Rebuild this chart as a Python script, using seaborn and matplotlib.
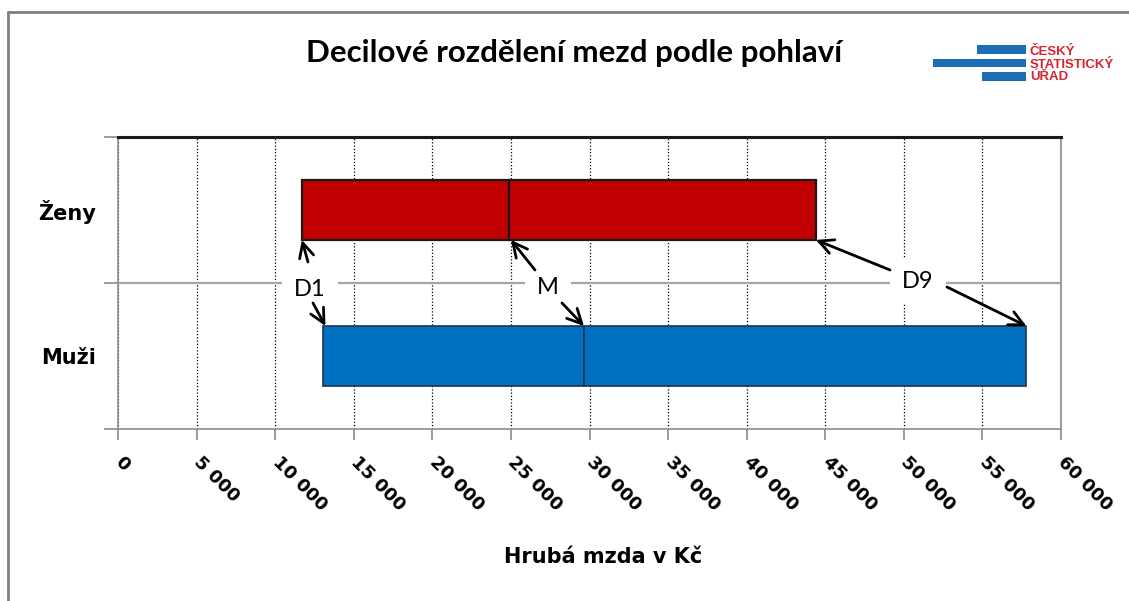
import matplotlib
matplotlib.use('Agg')
import matplotlib.pyplot as plt
import seaborn as sns
from matplotlib.lines import Line2D
from matplotlib.patches import Rectangle

# ---------------- data ----------------
categories = ['Ženy', 'Muži']
d1 = [11700, 13050]
median = [24900, 29650]
d9 = [44400, 57800]
bar_colors = ['#C00000', '#0070C0']
edge_colors = ['#1a1a1a', '#1f3350']
tick_values = [0, 5000, 10000, 15000, 20000, 25000, 30000, 35000, 40000, 45000, 50000, 55000, 60000]
tick_labels = ['0', '5 000', '10 000', '15 000', '20 000', '25 000', '30 000',
               '35 000', '40 000', '45 000', '50 000', '55 000', '60 000']
title = 'Decilové rozdělení mezd podle pohlaví'
xlabel = 'Hrubá mzda v Kč'
logo_lines = ['ČESKÝ', 'STATISTICKÝ', 'ÚŘAD']

# ---------------- style ----------------
sns.set_theme(style='white')
plt.rcParams['font.family'] = ['DejaVu Sans']
plt.rcParams['text.color'] = 'black'
plt.rcParams['xtick.labelcolor'] = 'black'
plt.rcParams['ytick.labelcolor'] = 'black'
BOLD = ['DejaVu Sans']

W, H = 1129, 601
fig = plt.figure(figsize=(W / 100, H / 100), dpi=100)
fig.patch.set_facecolor('white')
ax = fig.add_axes([118 / W, 1 - 429 / H, (1061 - 118) / W, (429 - 137) / H])

bar_h = 0.41
for i, cat in enumerate(categories):
    lw = 1.6 if i == 0 else 1.2
    ax.barh(i, median[i] - d1[i], left=d1[i], height=bar_h, color=bar_colors[i],
            edgecolor=edge_colors[i], linewidth=lw, zorder=3)
    ax.barh(i, d9[i] - median[i], left=median[i], height=bar_h, color=bar_colors[i],
            edgecolor=edge_colors[i], linewidth=lw, zorder=3)

ax.set_xlim(0, 60000)
ax.set_ylim(1.5, -0.5)

# grid & ticks
ax.set_xticks(tick_values)
ax.set_xticklabels(tick_labels, rotation=-45, ha='left', va='center',
                   rotation_mode='anchor', fontsize=13, fontweight='bold',
                   family=BOLD, color='black')
ax.xaxis.grid(True, color='black', linestyle=(0, (1, 1.6)), linewidth=0.9, zorder=1)
ax.set_axisbelow(True)
ax.tick_params(axis='x', bottom=True, length=8, width=1.2, color='#8c8c8c',
               direction='out', pad=14)

ax.set_yticks([0, 1])
ax.set_yticklabels(categories, fontsize=15, fontweight='bold', family=BOLD,
                   color='black')
ax.set_yticks([-0.5, 0.5, 1.5], minor=True)
ax.tick_params(axis='y', which='major', left=False, length=0, pad=16)
ax.tick_params(axis='y', which='minor', left=True, length=10, width=1.2,
               color='#8c8c8c', direction='out')
ax.axhline(0.5, color='#A6A6A6', linewidth=1.6, zorder=1)

for s in ['left', 'bottom', 'right']:
    ax.spines[s].set_color('#8c8c8c')
    ax.spines[s].set_linewidth(1.2)
ax.spines['top'].set_color('#1a1a1a')
ax.spines['top'].set_linewidth(2.2)

ax.set_xlabel('')
ax.set_ylabel('')

# ---------------- annotations ----------------
def px2data(px, py):
    return ((px - 118) / 943 * 60000, (py - 137) / 146 - 0.5)

label_font = dict(family=['Lato', 'DejaVu Sans'], fontsize=17, color='black',
                  ha='center', va='center', zorder=5,
                  bbox=dict(boxstyle='square,pad=0.5', fc='white', ec='none'))
lx, ly = px2data(310, 289)
ax.text(lx, ly, 'D1', **label_font)
lx, ly = px2data(548, 287)
ax.text(lx, ly, 'M', **label_font)
lx, ly = px2data(918, 281)
ax.text(lx, ly, 'D9', **label_font)

top_edge = 0 + bar_h / 2
bot_edge = 1 - bar_h / 2
arrow_kw = dict(arrowstyle='->', lw=2.0, color='black', mutation_scale=26,
                shrinkA=0, shrinkB=0)
arrows = [
    ((308, 262), (d1[0], top_edge)),
    ((313, 303), (d1[1] + 150, bot_edge)),
    ((535, 270), (median[0] + 100, top_edge)),
    ((562, 303), (median[1], bot_edge)),
    ((890, 270), (d9[0], top_edge)),
    ((947, 287), (d9[1], bot_edge)),
]
for start, tip in arrows:
    ax.annotate('', xy=tip, xytext=px2data(*start),
                arrowprops=arrow_kw, zorder=6)

# ---------------- figure texts ----------------
fig.text(574 / W, 1 - 53 / H, title, ha='center', va='center', fontsize=22.5,
         family=['Lato', 'DejaVu Sans'], fontweight='bold', color='black')
fig.text(603 / W, 1 - 557 / H, xlabel, ha='center', va='center', fontsize=15,
         fontweight='bold', family=BOLD, color='black')

# logo
blue = '#1B6DB6'
for (x0, y0, x1, y1) in [(977, 45, 1026, 54), (933, 59, 1026, 67), (982, 72, 1026, 81)]:
    fig.add_artist(Rectangle((x0 / W, 1 - y1 / H), (x1 - x0) / W, (y1 - y0) / H,
                             transform=fig.transFigure, color=blue, lw=0))
for txt, yb in zip(logo_lines, [55, 67.5, 80]):
    fig.text(1030 / W, 1 - yb / H, txt, ha='left', va='baseline', fontsize=9.5,
             fontweight='bold', color='#D62631', family=['Liberation Sans', 'DejaVu Sans'])

# figure border (top & left)
fig.add_artist(Line2D([8 / W, 1], [1 - 12 / H, 1 - 12 / H], transform=fig.transFigure,
                      color='#808080', lw=2))
fig.add_artist(Line2D([8 / W, 8 / W], [0, 1 - 12 / H], transform=fig.transFigure,
                      color='#808080', lw=2))

fig.savefig('out.png', dpi=100)
